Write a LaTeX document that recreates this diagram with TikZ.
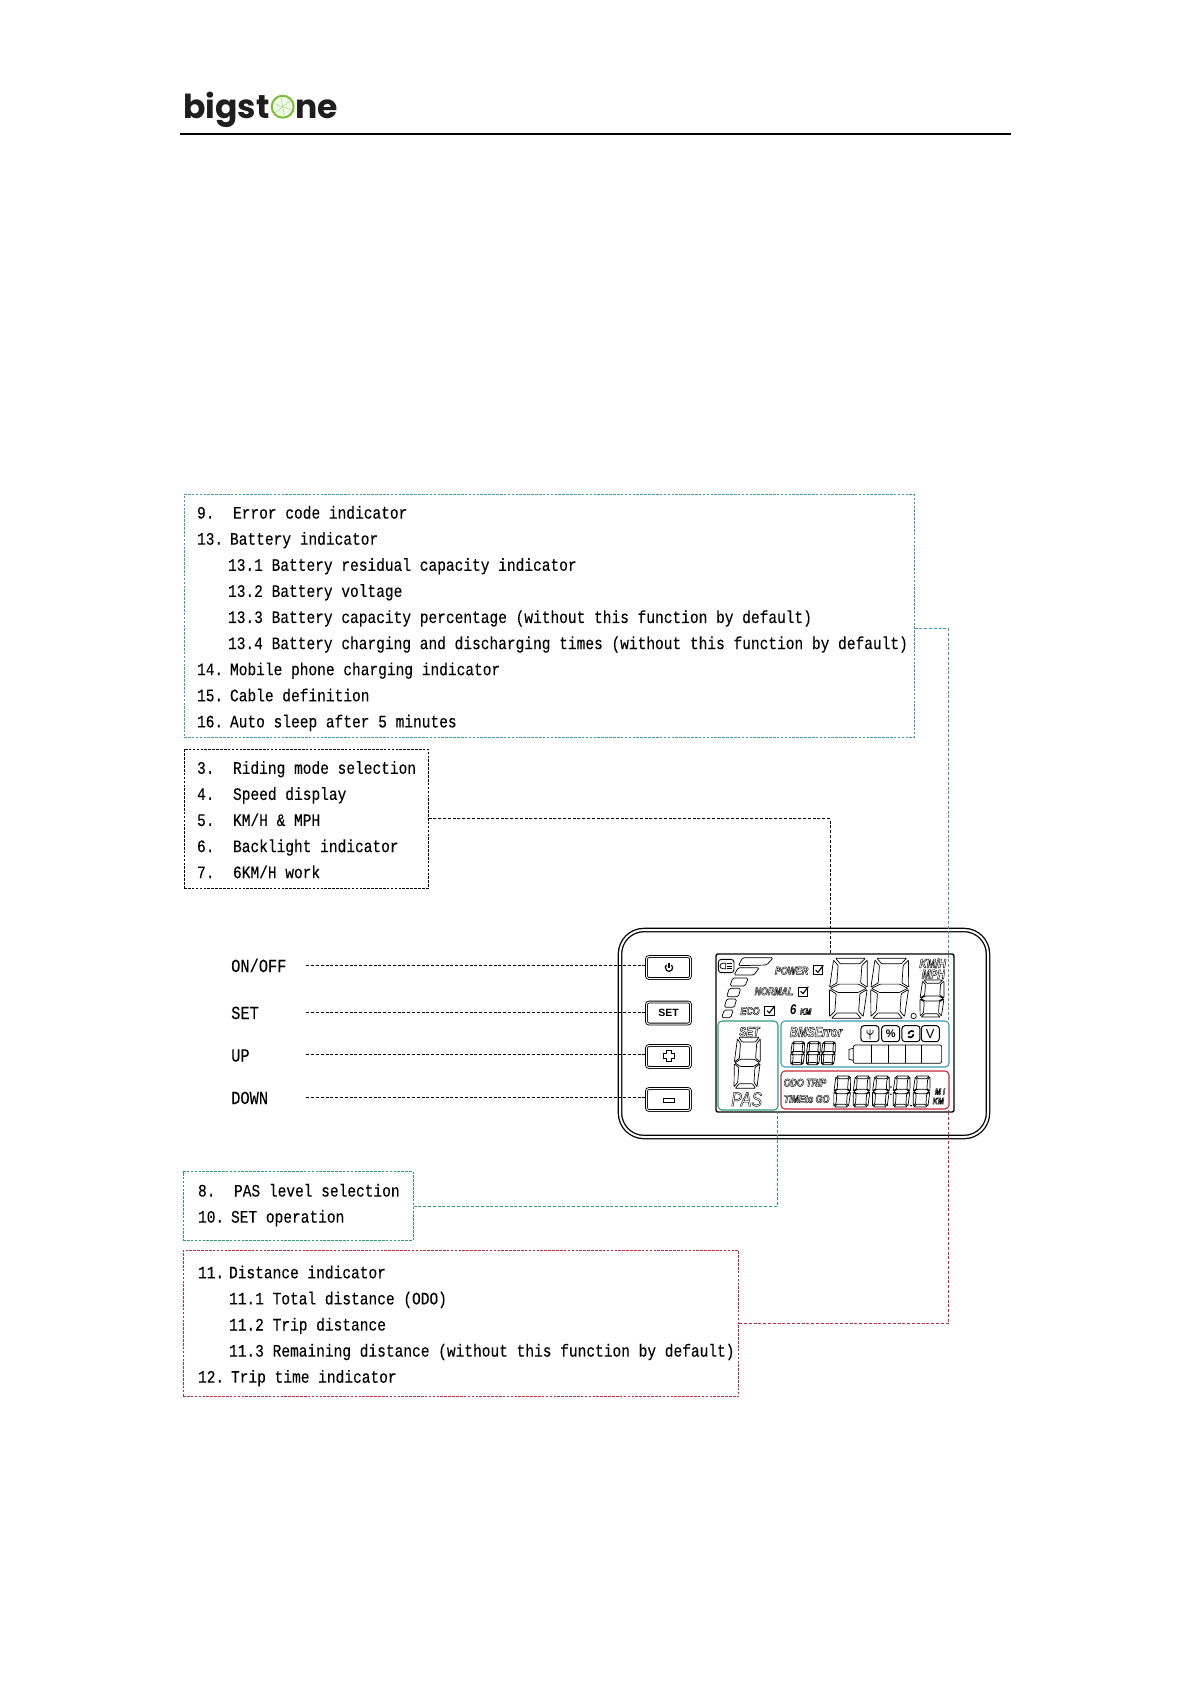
\documentclass[tikz,border=0pt]{standalone}
\usepackage{fontspec}
\usetikzlibrary{positioning, arrows.meta, calc}
\newfontfamily\listfont[FakeStretch=0.83,FakeBold=0.12]{Liberation Mono}
\newfontfamily\lcdfont[FakeStretch=0.8]{Liberation Sans}
\newfontfamily\logofont{Poppins}
\setsansfont{Liberation Sans}
\definecolor{bmsdraw}{RGB}{61, 154, 184}
\definecolor{pasdraw}{RGB}{46, 155, 115}
\definecolor{distdraw}{RGB}{196, 40, 60}
\definecolor{logogreen}{RGB}{123, 190, 59}
\definecolor{logoink}{RGB}{30, 30, 30}
% list lines: number, then text
\def\listpad{13pt}
\newcommand\numline[3][33]{\hspace*{\listpad}\makebox[#1pt][l]{#2}#3}
\newcommand\subline[1]{\hspace*{\dimexpr\listpad+31pt\relax}#1}
% outlined lettering of the display
\newcommand\outl[1]{\special{pdf:code 1 Tr 0.42 w}#1\special{pdf:code 0 Tr}}
% one seven-segment digit, top-left at (#1,#2), size #3 x #4
\newcommand\segdigit[4]{%
  \begin{scope}[shift={(#1,#2)},x=#3pt,y=-#4pt,xslant=.07,line width=.7pt,rounded corners=.6pt]
    \draw (.14,0) -- (.86,0) -- (.74,.09) -- (.26,.09) -- cycle
          (.09,.03) -- (.21,.12) -- (.21,.41) -- (.04,.48) -- cycle
          (.91,.03) -- (.79,.12) -- (.79,.41) -- (.96,.48) -- cycle
          (.06,.5) -- (.26,.43) -- (.74,.43) -- (.94,.5) -- (.74,.57) -- (.26,.57) -- cycle
          (.04,.52) -- (.21,.59) -- (.21,.88) -- (.09,.97) -- cycle
          (.96,.52) -- (.79,.59) -- (.79,.88) -- (.91,.97) -- cycle
          (.14,1) -- (.86,1) -- (.74,.91) -- (.26,.91) -- cycle;
  \end{scope}}

\begin{document}
\begin{tikzpicture}[
    x=1pt, y=-1pt,
    % text boxes and their connectors
    infobox/.style={anchor=north west, inner xsep=0pt, inner ysep=0pt, line width=1.1pt,
        dash pattern=on 2.6pt off 1.3pt, align=flush left,
        font=\listfont\fontsize{17.5}{26.1}\selectfont},
    link/.style={line width=1pt, dash pattern=on 3pt off 1.8pt},
    btnlabel/.style={anchor=west, inner sep=0pt, text width=75pt, text height=14pt, text depth=0pt,
        font=\listfont\fontsize{18.5}{26.1}\selectfont},
    % device parts
    casing/.style={draw, double=white, double distance=2pt, line width=1.3pt, rounded corners=24pt, inner sep=0pt},
    keybtn/.style={draw, double=white, double distance=1pt, line width=.85pt, rounded corners=2.5pt,
        inner sep=0pt, minimum width=44pt, minimum height=22pt, font=\sffamily\bfseries\fontsize{10.5}{11}\selectfont},
    panel/.style={draw, line width=1.1pt, rounded corners=4pt, inner sep=0pt},
    lcdtext/.style={inner sep=0pt, font=\lcdfont\bfseries\itshape\fontsize{11}{12}\selectfont},
    lcd/.style={shift={(610,920)}, x=.3333pt, y=-.3333pt}
]
\useasboundingbox (0,0) rectangle (1191,1684);

% ==========================================
% 1. header: logo and rule
% ==========================================
\node[anchor=base east, inner sep=0pt, text=logoink, font=\logofont\bfseries\fontsize{33}{36}\selectfont] (logoa) at (270,118) {bigst};
\node[anchor=base west, inner sep=0pt, text=logoink, font=\logofont\bfseries\fontsize{33}{36}\selectfont] (logob) at (295,118) {ne};
\node[circle, draw=logogreen, line width=2pt, fill=logogreen!12, minimum size=22pt, inner sep=0pt] (logoring) at (282.7,106.7) {};
\foreach \a in {20,80,140,200,260,320}
    \draw[logogreen!70, line width=.4pt] (logoring.center) -- +(\a:9.5);
\coordinate (ruleleft) at (180,133.5);
\coordinate (ruleright) at (1011,133.5);
\draw[line width=2pt] (ruleleft) -- (ruleright);

% ==========================================
% 2. text boxes
% ==========================================
\node[infobox, draw=bmsdraw, text width=730pt, minimum height=243pt] (boxbms) at (183.5,494) {%
    \rule{0pt}{17.5pt}\numline[36]{9.}{Error code indicator}\\
    \numline{13.}{Battery indicator}\\
    \subline{13.1 Battery residual capacity indicator}\\
    \subline{13.2 Battery voltage}\\
    \subline{13.3 Battery capacity percentage (without this function by default)}\\
    \subline{13.4 Battery charging and discharging times (without this function by default)}\\
    \numline{14.}{Mobile phone charging indicator}\\
    \numline{15.}{Cable definition}\\
    \numline{16.}{Auto sleep after 5 minutes}};
\node[infobox, draw=black, text width=244pt, minimum height=139.5pt] (boxride) at (183.5,748.5) {%
    \rule{0pt}{14.5pt}\numline[36]{3.}{Riding mode selection}\\
    \numline[36]{4.}{Speed display}\\
    \numline[36]{5.}{KM/H \& MPH}\\
    \numline[36]{6.}{Backlight indicator}\\
    \numline[36]{7.}{6KM/H work}};
\node[infobox, draw=pasdraw, text width=230pt, minimum height=69pt] (boxpas) at (182.5,1171) {%
    \def\listpad{15pt}\numline[36]{8.}{PAS level selection}\\
    \rule[-5.6pt]{0pt}{5.6pt}\numline{10.}{SET operation}};
\node[infobox, draw=distdraw, text width=555.5pt, minimum height=146pt] (boxdist) at (182.5,1250) {%
    \def\listpad{15pt}\rule{0pt}{17.5pt}\numline[31]{11.}{Distance indicator}\\
    \subline{11.1 Total distance (ODO)}\\
    \subline{11.2 Trip distance}\\
    \subline{11.3 Remaining distance (without this function by default)}\\
    \numline{12.}{Trip time indicator}};

% ==========================================
% 3. device body, buttons and display frames
% ==========================================
\node[casing, minimum width=368pt, minimum height=207pt] (device) at (804,1033.5) {};
\node[keybtn] (btnpower) at (668.5,967.5) {};
\node[keybtn] (btnset)   at (668.5,1013) {SET};
\node[keybtn] (btnup)    at (668.5,1056.5) {};
\node[keybtn] (btndown)  at (668.5,1099.5) {};
\node[draw, line width=1.4pt, rounded corners=2pt, inner sep=0pt, minimum width=238pt, minimum height=158pt] (lcdframe) at (835,1033) {};
\node[panel, draw=pasdraw, minimum width=60pt, minimum height=89pt] (panelpas) at (748,1065.5) {};
\node[panel, draw=bmsdraw, minimum width=168pt, minimum height=46pt] (panelbms) at (865,1044) {};
\node[panel, draw=distdraw, minimum width=168pt, minimum height=38pt] (paneldist) at (865,1090) {};

% ==========================================
% 4. everything inside the display (crop coordinates)
% ==========================================
\begin{scope}[lcd, line width=.7pt]
    % button glyphs
    \draw[line width=1.2pt] (184,134.6) arc[start angle=-50, end angle=230, radius=11];
    \draw[line width=1.2pt] (177,128) -- (177,143);
    \draw (170,392) -- (184,392) -- (184,401) -- (194,401) -- (194,415) -- (184,415) -- (184,424)
        -- (170,424) -- (170,415) -- (160,415) -- (160,401) -- (170,401) -- cycle;
    \draw (160,534) rectangle (194,547);
    % headlight icon
    \draw[line width=.9pt, rounded corners=3pt] (325,118) rectangle (372,158);
    \draw (347,130) -- (338,130) arc[start angle=-90, end angle=-270, radius=8] -- (347,146) -- cycle;
    \draw (352,130) -- (366,130) (352,138) -- (366,138) (352,146) -- (366,146);
    % power bars
    \draw[rounded corners=1.5pt] (398,113) -- (490,113) -- (470,135) -- (385,137) -- cycle
          (385,143) -- (448,143) -- (432,165) -- (372,165) -- cycle
          (368,174) -- (415,174) -- (405,198) -- (360,198) -- cycle
          (358,205) -- (392,205) -- (385,230) -- (350,230) -- cycle
          (350,237) -- (380,237) -- (373,262) -- (343,262) -- cycle
          (343,270) -- (370,270) -- (362,293) -- (335,293) -- cycle;
    % riding modes
    \node[lcdtext] (modepower)  at (545,152) {\outl{POWER}};
    \node[lcdtext] (modenormal) at (492,214) {\outl{NORMAL}};
    \node[lcdtext] (modeeco)    at (420,273) {\outl{ECO}};
    \foreach \cx/\cy in {625/150,580/214,479/272} {
        \draw[line width=1pt] (\cx-14,\cy-13) rectangle (\cx+14,\cy+14);
        \draw[line width=1.1pt] (\cx-8,\cy) -- (\cx-1,\cy+7) -- (\cx+15,\cy-14);
    }
    \node[lcdtext, font=\lcdfont\bfseries\itshape\fontsize{14}{14}\selectfont] (walksix) at (550,270) {6};
    \node[lcdtext, font=\lcdfont\bfseries\itshape\fontsize{9}{9}\selectfont] (walkkm) at (587,275) {\outl{KM}};
    % speed digits
    \segdigit{660}{115}{41}{60}
    \segdigit{784}{115}{41}{60}
    \draw (911,288) circle[radius=8];
    \segdigit{931}{180}{26}{37}
    \node[lcdtext, font=\lcdfont\bfseries\itshape\fontsize{13}{13}\selectfont] (unitkmh) at (968,130) {\outl{KM/H}};
    \node[lcdtext, font=\lcdfont\bfseries\itshape\fontsize{13}{13}\selectfont] (unitmph) at (970,163) {\outl{MPH}};
    % PAS panel
    \node[lcdtext, font=\lcdfont\bfseries\itshape\fontsize{13}{13}\selectfont] (passet) at (418,335) {\outl{SET}};
    \segdigit{375}{352}{28}{51}
    \node[lcdtext, font=\lcdfont\itshape\fontsize{20}{20}\selectfont] (paslevel) at (410,538) {\outl{PAS}};
    % BMS panel
    \node[lcdtext, font=\lcdfont\bfseries\itshape\fontsize{14}{14}\selectfont] (bmserror) at (618,336) {\outl{BMSError}};
    \segdigit{543}{365}{15}{23}
    \segdigit{590}{365}{15}{23}
    \segdigit{635}{365}{15}{23}
    \foreach \ix in {780,842,903,961}
        \draw[line width=1pt, rounded corners=3pt] (\ix-27,317) rectangle (\ix+27,365);
    \draw (780,328) -- (780,358) (771,330) -- (771,338) -- (780,345) (789,330) -- (789,338) -- (780,345);
    \node[lcdtext, font=\sffamily\bfseries\fontsize{11}{11}\selectfont] (iconpct) at (842,342) {\%};
    \draw[line width=1.6pt] (912,335) arc[start angle=-50, end angle=-180, radius=10];
    \draw[line width=1.6pt] (894,350) arc[start angle=130, end angle=0, radius=10];
    \node[lcdtext, font=\sffamily\fontsize{13}{13}\selectfont] (iconvolt) at (961,342) {V};
    \draw[rounded corners=2pt] (730,375) rectangle (995,430);
    \draw (730,385) -- (717,388) -- (717,418) -- (730,421);
    \foreach \cellx in {783,835,885,935}
        \draw (\cellx,375) -- (\cellx,430);
    % distance panel
    \node[lcdtext] (labelodo)  at (585,488) {\outl{ODO TRIP}};
    \node[lcdtext] (labeltime) at (590,537) {\outl{TIMEto GO}};
    \segdigit{673}{468}{18}{31}
    \segdigit{731}{468}{18}{31}
    \segdigit{789}{468}{18}{31}
    \fill (843,501) circle[radius=2.5] (843,523) circle[radius=2.5];
    \segdigit{851}{468}{18}{31}
    \fill (903,557) circle[radius=3];
    \segdigit{911}{468}{18}{31}
    \node[lcdtext, font=\lcdfont\bfseries\itshape\fontsize{9}{9}\selectfont] (unitmi) at (990,515) {\outl{M I}};
    \node[lcdtext, font=\lcdfont\bfseries\itshape\fontsize{9}{9}\selectfont] (unitkm) at (985,543) {\outl{KM}};
\end{scope}

% ==========================================
% 5. button labels and all connectors
% ==========================================
\node[btnlabel] (labonoff) at (231,965) {ON/OFF};
\node[btnlabel] (labset)   at (231,1012) {SET};
\node[btnlabel] (labup)    at (231,1054.5) {UP};
\node[btnlabel] (labdown)  at (231,1097) {DOWN};
\draw[link] (labonoff.east) -- (labonoff.east -| btnpower.west);
\draw[link] (labset.east)   -- (labset.east -| btnset.west);
\draw[link] (labup.east)    -- (labup.east -| btnup.west);
\draw[link] (labdown.east)  -- (labdown.east -| btndown.west);

\draw[link, draw=bmsdraw]  ([yshift=-12.5pt]boxbms.east) -| ([xshift=-1pt]panelbms.north east);
\draw[link]                (boxride.east) -| ([xshift=-5pt]lcdframe.north);
\draw[link, draw=pasdraw]  (boxpas.east) -| ([xshift=-1pt]panelpas.south east);
\draw[link, draw=distdraw] (boxdist.east) -| ([xshift=-1pt]paneldist.south east);

\end{tikzpicture}
\end{document}
